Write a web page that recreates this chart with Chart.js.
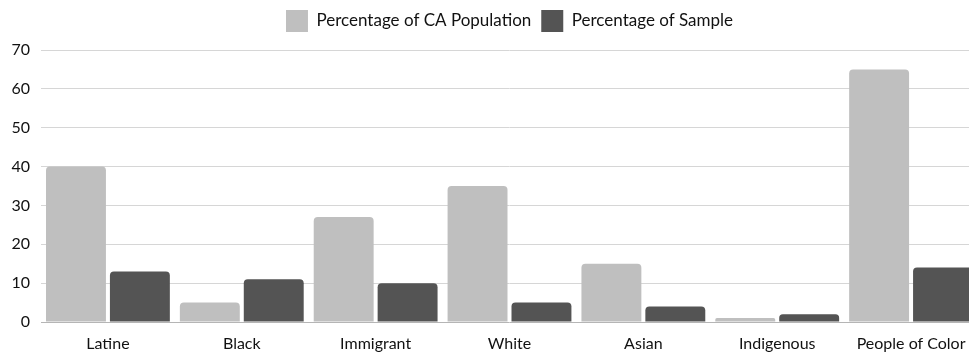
<!DOCTYPE html>
<html>
<head>
<meta charset="utf-8">
<script src="https://cdn.jsdelivr.net/npm/chart.js@4/dist/chart.umd.min.js"></script>
<style>
  html, body { margin: 0; padding: 0; background: #fff; overflow: hidden; }
  #wrap { width: 980px; height: 355px; position: relative; }
</style>
</head>
<body>
<div id="wrap"><canvas id="chart"></canvas></div>
<script>
const categories = ['Latine', 'Black', 'Immigrant', 'White', 'Asian', 'Indigenous', 'People of Color'];
const caPopulation = [40, 5, 27, 35, 15, 1, 65];
const sample = [13, 11, 10, 5, 4, 2, 14];
const yTicks = [0, 10, 20, 30, 40, 50, 60, 70];

const FONT = "Lato, 'Open Sans', sans-serif";

// Give the legend a little extra room below it, so the plot starts lower.
const legendSpacing = {
  id: 'legendSpacing',
  afterInit(chart) {
    const legend = chart.legend;
    if (!legend) return;
    const fit = legend.fit;
    legend.fit = function () {
      fit.call(this);
      this.height += 8;
    };
  }
};

new Chart(document.getElementById('chart'), {
  type: 'bar',
  data: {
    labels: categories,
    datasets: [
      {
        label: 'Percentage of CA Population',
        data: caPopulation,
        backgroundColor: '#bfbfbf',
        borderRadius: 4,
        borderSkipped: 'start',
        barPercentage: 0.9375,
        categoryPercentage: 0.955
      },
      {
        label: 'Percentage of Sample',
        data: sample,
        backgroundColor: '#545454',
        borderRadius: 4,
        borderSkipped: 'start',
        barPercentage: 0.9375,
        categoryPercentage: 0.955
      }
    ]
  },
  plugins: [legendSpacing],
  options: {
    responsive: true,
    maintainAspectRatio: false,
    animation: false,
    layout: { padding: { top: 0, right: 2, bottom: 0, left: 0 } },
    plugins: {
      tooltip: { enabled: false },
      legend: {
        position: 'top',
        fullSize: false,
        labels: {
          boxWidth: 22,
          boxHeight: 22,
          padding: 10,
          color: '#111',
          font: { family: FONT, size: 17 }
        }
      }
    },
    scales: {
      x: {
        grid: { display: false },
        border: { display: false },
        ticks: {
          color: '#111',
          padding: 4,
          maxRotation: 0,
          autoSkip: false,
          font: { family: FONT, size: 16 }
        },
        afterFit(scale) { scale.height = 33; }
      },
      y: {
        min: 0,
        max: 70,
        afterBuildTicks(scale) { scale.ticks = yTicks.map(v => ({ value: v })); },
        grid: {
          drawTicks: false,
          color: ctx => (ctx.tick && ctx.tick.value === 0 ? '#b5b5b5' : '#d6d6d6'),
          lineWidth: 1
        },
        border: { display: false },
        ticks: {
          color: '#111',
          padding: 11,
          font: { family: FONT, size: 16 }
        },
        afterFit(scale) { scale.width = 41; }
      }
    }
  }
});
</script>
</body>
</html>
